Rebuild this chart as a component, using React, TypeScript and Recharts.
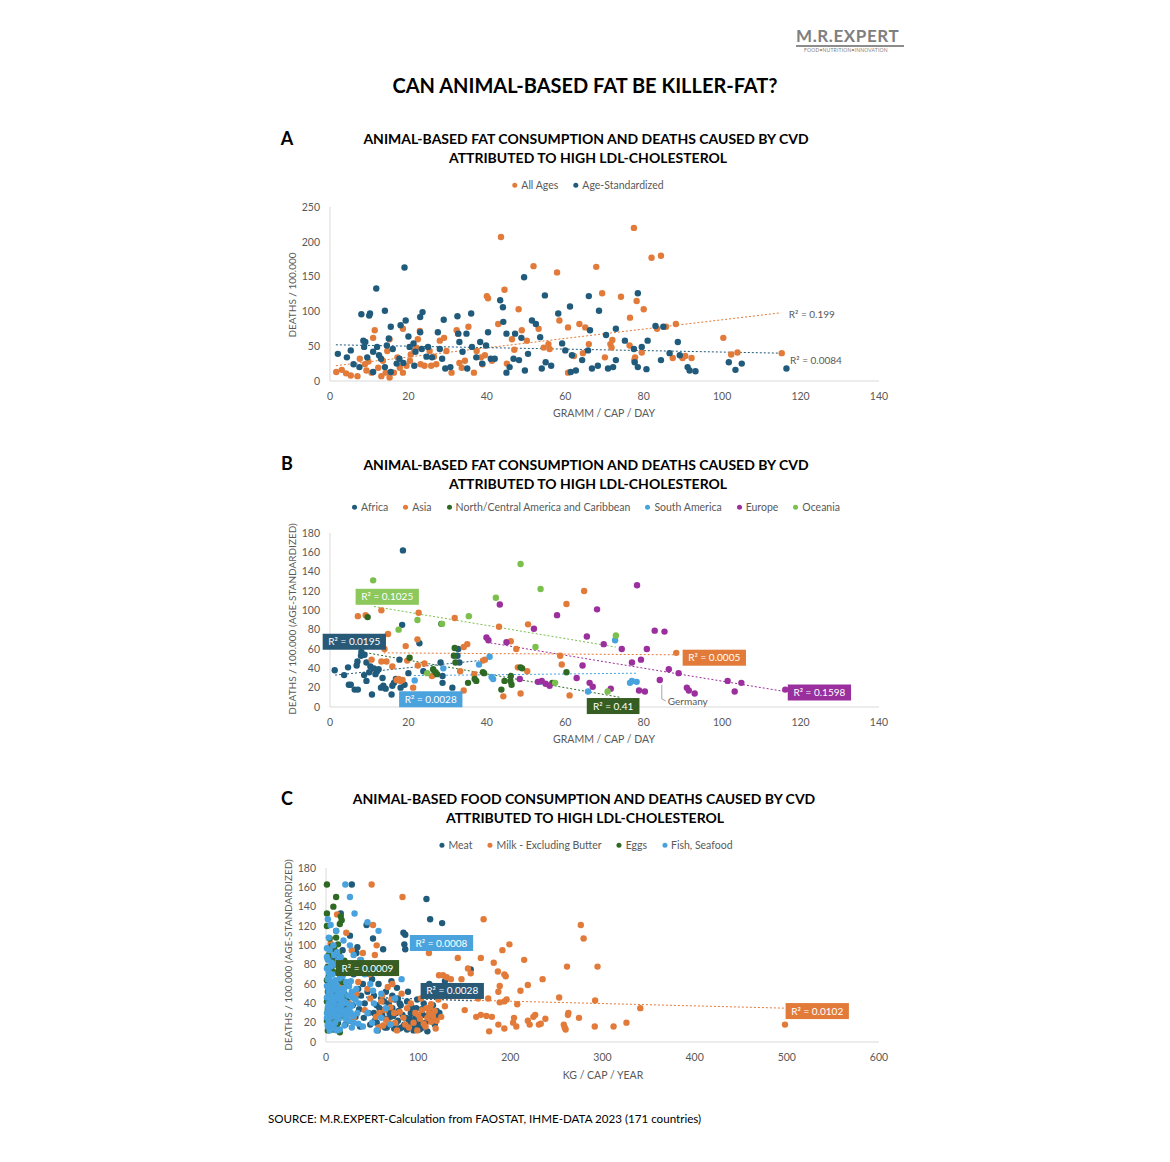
import React from 'react';
import { ScatterChart, Scatter, XAxis, YAxis, ReferenceLine, ReferenceDot } from 'recharts';

type P = [number, number];

// ---------------- DATA: Chart A ----------------
const allAges: P[] = [
  [1.6,13],[4.1,11],[5.3,8],[7.0,7],[7.6,32],[8.9,24],[9.3,15],[10.6,12],[11,62],[11.4,73],[12.3,19],[13.1,7],[13.5,29],
  [14.6,43],[15.2,5],[15.2,60],[16.3,12],[17.2,34],[17.8,19],[18.6,75],[18.6,12],[20.4,29],[20.6,38],[21.5,43],[22,48],
  [22.4,60],[22.9,72],[23.1,24],[24.1,22],[25.4,43],[25.8,22],[27.1,24],[28,58],[29.1,62],[29.7,43],[31,12],[32.3,73],
  [32.7,68],[33.6,19],[34.4,29],[35.3,78],[36.7,12],[37.4,43],[38.5,34],[38.9,24],[40,122],[40.3,119],[41.3,29],[42.9,82],
  [43.6,207],[44.5,131],[45.1,25],[46.4,60],[48.1,103],[48.9,73],[50.2,58],[51.9,165],[53.2,75],[54.5,48],[55.7,53],
  [57.9,156],[58.5,87],[60.7,12],[60.7,77],[62.2,36],[63.6,82],[65.1,77],[66,53],[67.9,164],[69.4,126],
  [74.2,121],[77.5,220],[82,177],[84.4,180],[78.2,115],[80,103],[76.5,91],[83.4,75],[85.7,78],[88.2,82],[72,59],[71.5,53],
  [71.8,48],[70.1,34],[76.4,51],[77.8,34],[77.6,30],[79.5,41],[87.4,33],[89.9,33],[90.6,36],[92.2,33],[100.3,62],
  [102.3,38],[103.9,41],[115.2,40],[3,16],[9.8,28],[14.2,12],[19.5,22],[26.5,35],[33,26],[39.5,37],[47,45],[56,46],[64.5,40]
];
const ageStd: P[] = [
  [2,39],[4.3,34],[5.3,44],[6,24],[7.5,20],[8,96],[8.5,58],[8.7,49],[9,56],[9.5,34],[10,94],[10.2,97],[11,42],[11,13],
  [11.8,133],[12,49],[12.5,37],[13,32],[14,101],[14.5,51],[14,20],[15,61],[15.5,78],[15.5,13],[16,46],[17,25],[17.7,32],
  [18,80],[18.7,26],[19,163],[19.3,87],[20,64],[20.3,49],[21.3,54],[21.5,22],[21.8,42],[23,92],[23.6,99],[23,70],[23.4,46],
  [24.6,35],[25,49],[26,34],[27.5,70],[28,46],[28.6,32],[29,88],[29.4,18],[30.7,20],[32.5,93],[32.7,68],[33,56],[33.8,42],
  [34.8,68],[35,18],[36,97],[36.2,49],[37.3,34],[38.3,56],[38.8,25],[39.8,51],[40.3,70],[41,32],[42,32],[43.4,116],
  [44.1,106],[44.2,85],[45,68],[45,12],[45.8,20],[46.8,32],[47.2,68],[48.2,30],[48.8,62],[49.5,149],[49.7,15],[50.5,39],
  [51.5,87],[52.5,82],[53.6,63],[54,18],[54.8,123],[55,27],[56.4,22],[58.2,97],[59.2,54],[60,44],[61.2,107],[61.4,13],
  [61.7,37],[62.7,15],[64.3,30],[65.8,44],[66,122],[66.3,73],[66.8,18],[68.3,22],[68.6,101],[70.4,66],[70.9,18],[72.2,20],
  [72.9,75],[72.9,30],[75.2,58],[77.5,46],[77.7,27],[78.5,126],[78.5,20],[79.5,49],[80.7,17],[81,58],[83,79],[85,78],
  [84.4,30],[86.6,40],[88.7,56],[89.2,37],[91.2,20],[91.7,15],[93.2,14],[101.7,27],[103.4,16],[105,25],[116.4,18]
];
const trendAllAges: P[] = [[1.5, 22], [115, 98]];
const trendAgeStd: P[] = [[1.5, 52], [115, 40]];
const xTicksA = [0, 20, 40, 60, 80, 100, 120, 140];
const yTicksA = [0, 50, 100, 150, 200, 250];

// ---------------- DATA: Chart B ----------------
const africa: P[] = [
  [1.2,38],[3.6,33],[4.6,41],[4.8,23],[5.3,23],[6.3,18],[6.8,43],[7,47],[7.9,53],[8,57],[8.7,33],[8.8,54],[9.3,27],[9.3,46],
  [10.3,42],[10.7,13],[11.2,40],[11.6,34],[12,37],[12.4,39],[13,20],[13.4,30],[13.6,22],[15.7,13],[15.9,22],[16.3,25],
  [17.3,28],[17.7,49],[18,20],[19,23],[18.4,85],[18.6,162],[22.8,66],[23.8,37],[28.2,46],[28.7,32],[28.7,25],[31.2,20],
  [32.5,53],[32.7,60],[33,46],[26.6,34],[7.1,18],[10,36],[14.2,19],[16.8,29],[20,35]
];
const asia: P[] = [
  [7.1,94],[9.1,95],[13.1,100],[14.8,75.5],[13.9,60],[10.6,49],[13.1,47],[14.4,47],[15.9,42],[19.3,63],[22.3,70],[22.6,97.5],
  [19.7,48],[22.4,43],[24.1,45],[17,28],[18,27],[18.5,28],[17.5,29],[21.2,20],[31.8,92],[34.1,62],[35,65],[33.2,37],[34.1,17],
  [36.8,34],[39,48],[39.5,49],[43.1,83],[46.1,68],[47.5,60],[47.9,41],[48.6,14],[44.2,11],[50.5,85.5],[60.3,106.5],[64.8,120],
  [58.7,53],[59.1,44],[61.1,12],[88.3,56],[50.3,37],[26,32]
];
const ncaCarib: P[] = [
  [9.6,93],[20.3,51],[28.4,86],[31.8,61],[31.6,53],[32,46],[26.3,39],[26.9,36],[27.3,34],[36.9,29],[37.3,27],[35.2,25],
  [39,36],[39.3,35],[43.7,18],[46.1,32],[46,27],[46.3,23],[48.6,41],[49,40],[60.3,36],[56.7,25],[44.5,27]
];
const southAm: P[] = [
  [21.6,27.5],[28.9,40],[38,44],[40.7,52],[41.6,29],[53.8,26],[65.8,16],[72.7,69],[77,27],[78.2,26],[41.2,31],[76.5,25]
];
const europe: P[] = [
  [39.9,72],[40.4,69],[43.3,106],[45,67],[48.4,29],[52,81],[54,27],[55,24],[56,22],[57.9,95],[62.9,30],[64.4,43],[65.5,73],
  [66.2,25],[67,21],[68.1,101],[69.8,65],[71.6,19],[74.4,60],[77,46],[78.3,126],[78.8,17],[79.3,49],[80.3,16],[80.8,60],
  [82.8,79],[84.1,28],[85.3,78],[86.4,39],[88.9,35],[91,20],[91.5,17],[93,14],[101.4,27],[103.2,16],[104.9,25],[116.1,18],[53,26]
];
const oceania: P[] = [
  [11,131],[22.3,90],[17.5,80],[28.6,86],[35.4,94],[42.3,113],[48.6,148],[53.7,122],[52.4,62],[24.8,35],[57.4,25],[70.8,16],[72.9,74]
];
const trendAfrica: P[] = [[1.3, 33], [38, 48]];
const trendAsia: P[] = [[13.7, 56], [88.3, 54]];
const trendNca: P[] = [[8, 57], [74, 10]];
const trendSouthAm: P[] = [[21.4, 32.5], [78.5, 35]];
const trendEurope: P[] = [[39.9, 67], [116, 16]];
const trendOceania: P[] = [[11.2, 104], [72.9, 62]];
const germany: P = [84.1, 28];
const xTicksB = [0, 20, 40, 60, 80, 100, 120, 140];
const yTicksB = [0, 20, 40, 60, 80, 100, 120, 140, 160, 180];

// ---------------- DATA: Chart C ----------------
const meat: P[] = [
  [2,45],[3,60],[4,38],[5,30],[6,72],[7,52],[8,25],[9,88],[10,40],[11,33],[12,55],[13,20],[14,64],[15,47],[16,133],[17,28],
  [18,95],[19,36],[20,50],[21,18],[22,80],[23,42],[24,60],[25,30],[26,110],[27,22],[28,163],[29,38],[30,70],[31,45],[32,26],
  [33,92],[34,98],[35,55],[36,34],[37,16],[38,48],[39,82],[40,60],[41,25],[42,40],[44,121],[45,52],[46,30],[48,18],[50,65],
  [51,107],[52,48],[53,22],[55,38],[56,12],[57,60],[58,28],[60,45],[62,96],[63,33],[64,15],[65,52],[66,24],[68,40],[69,30],
  [70,18],[71,63],[72,35],[73,27],[75,44],[76,20],[77,56],[78,45],[79,32],[80,14],[81,38],[82,15],[84,113],[85,101],[86,96],
  [86,111],[87,25],[88,13],[89,52],[90,20],[92,30],[94,16],[96,22],[98,35],[100,17],[101,13],[103,14],[105,28],[106,40],
  [108,20],[109,148],[110,11],[112,60],[113,127],[114,24],[115,30],[117,26],[118,18],[120,32],[122,28],[126,123],[129,63],[157,75],
  [52,30],[55,20],[58,35],[61,28],[63,42],[66,15],[67,33],[70,26],[72,48],[74,14],[76,30],[78,22],[80,40],[83,28],[85,18],
  [88,42],[91,24],[93,36],[95,12],[97,27],[99,44],[102,20],[104,34],[107,16],[111,28],[116,38],[119,22],[123,30]
];
const milk: P[] = [
  [49.5,163],[83,150],[171,127],[276.5,121],[279.5,107],[199,101],[191.4,95],[215,85],[182,82],[168,87],[143,87],[294.6,78],
  [261.5,78],[186.5,73],[193.5,70],[195,68],[122.6,69],[127,69],[135.5,65],[147,65],[157,71],[235,65],[219,59],[188.5,58],
  [211,53],[187,52],[165,45],[176,45],[196,44],[253,46],[292,43],[193.5,42],[188.5,41],[207.5,39],[129,37],[114,39],[150.5,33],
  [341,35],[263,30],[262.5,28],[274.5,25],[225,26],[227,28],[204,25],[163,26],[168,28],[174,27],[180,26],[219,22],[221,18],
  [231,18],[233,19],[238,24],[203,20],[206.5,16],[187,18],[193.5,14],[177,11],[258,18],[259,15],[260,13],[291.6,16],[312,16],
  [326,20],[498,18],[100,28],[102,24],[104,33],[106,19],[109,35],[110,25],[112,30],[114,21],[116,27],[118,32],[120,22],[95,20],
  [97,30],[90,15],[88,35],[84,25],[80,31],[75,20],[72,60],[70,36],[67,57],[65,23],[62,17],[60,42],[58,30],[55,100],[53,90],
  [51,121],[48,45],[47,70],[45,55],[42,33],[40,92],[37,85],[35,62],[33,50],[30,25],[28,95],[25,40],[22,113],[20,30],[18,70],
  [15,58],[12,132],[10,45],[8,80],[6,35],[5,102],[3,28],[164,56],[111.7,92],[131,67],[154,76],
  [54,26],[57,15],[61,48],[64,33],[68,20],[71,44],[74,30],[77,12],[82,50],[86,18],[92,40],[99,12],[103,45],[108,16],[113,36],
  [119,14],[122,44],[125,26]
];
const eggs: P[] = [
  [1,163],[11,150],[1,133],[16,130],[17,126],[15,122],[11,115],[11,108],[13,101],[9,96],[14,92],[3,90],[2,86],[7,83],[12,80],
  [2,78],[6,75],[10,72],[3,68],[1,64],[8,60],[4,57],[13,55],[2,52],[6,48],[9,45],[1,42],[4,40],[11,37],[2,34],[7,31],[14,29],
  [3,26],[9,24],[1,22],[5,20],[12,18],[3,15],[8,13],[2,12],[15,10],[18,62],[20,84],[22,47],[25,35],[19,27],[6,99],[4,107],
  [1,120],[8,140]
];
const fish: P[] = [
  [21,163],[26,150],[31,133],[5,121],[2,127],[45,124],[57,115],[3,108],[8,100],[1,97],[4,95],[12,93],[16,88],[2,85],[6,82],
  [10,80],[1,76],[14,74],[3,72],[7,70],[18,68],[2,65],[5,62],[11,60],[1,58],[20,56],[8,54],[3,52],[13,50],[24,48],[1,46],
  [6,44],[16,42],[9,40],[28,38],[2,36],[12,34],[22,33],[4,31],[18,29],[7,28],[30,27],[1,25],[14,24],[25,22],[3,21],[10,20],
  [35,19],[6,18],[20,17],[2,16],[28,15],[9,14],[15,13],[4,12],[40,16],[45,30],[50,20],[55,12],[52,40],[48,60],[60,25],
  [65,35],[70,18],[75,45],[82,65],[38,85],[42,70],[33,55],[36,40],[51,53],[60,50],[26,100],[30,90],[19,105],[23,78],[11,115],
  [9,33],[17,47],[27,63],
  [1,30],[3,40],[5,50],[7,36],[9,58],[11,45],[13,28],[15,66],[17,38],[19,52],[21,24],[23,40],[25,58],[27,30],[29,46],[2,18],
  [4,68],[6,26],[8,47],[10,64],[12,12],[14,55],[16,34],[18,80],[20,42],[22,62],[24,28],[26,36],[28,52],[30,20],[32,44],[34,30],
  [1,88],[5,78],[9,90],[13,84],[3,56],[7,42],[11,26],[15,38]
];
const trendMeat: P[] = [[0, 48], [160, 42.5]];
const trendMilk: P[] = [[0, 47], [498, 35]];
const trendEggs: P[] = [[0, 48], [30, 47]];
const trendFish: P[] = [[0, 46.5], [90, 45]];
const xTicksC = [0, 100, 200, 300, 400, 500, 600];
const yTicksC = [0, 20, 40, 60, 80, 100, 120, 140, 160, 180];

// R² annotations (text + anchor in data units)
const r2A = [
  { t: 'R² = 0.199', x: 117, y: 96 },
  { t: 'R² = 0.0084', x: 117.3, y: 29 },
];
const r2B = [
  { t: 'R² = 0.1025', x: 14.6, y: 114, c: 'oce' },
  { t: 'R² = 0.0195', x: 6.2, y: 67.5, c: 'afr' },
  { t: 'R² = 0.0028', x: 25.7, y: 8, c: 'sam' },
  { t: 'R² = 0.41', x: 72.2, y: 1, c: 'nca' },
  { t: 'R² = 0.0005', x: 98, y: 51, c: 'asi' },
  { t: 'R² = 0.1598', x: 124.8, y: 15, c: 'eur' },
];
const r2C = [
  { t: 'R² = 0.0008', x: 125.3, y: 102.4, c: 'fish' },
  { t: 'R² = 0.0009', x: 45, y: 76.5, c: 'eggs' },
  { t: 'R² = 0.0028', x: 137, y: 52.8, c: 'meat' },
  { t: 'R² = 0.0102', x: 533, y: 32, c: 'milk' },
];

// ---------------- STYLE ----------------
const FONT = "Lato, 'Open Sans', sans-serif";
const TXT = '#595959';
const AX = '#D9D9D9';
const C_ORANGE = '#E27B3A';
const C_DBLUE = '#215B7C';
const C_DGREEN = '#2F6A25';
const C_LBLUE = '#48A2DD';
const C_PURPLE = '#9B2F9D';
const C_LGREEN = '#7BBF4C';
const BOX: Record<string, string> = {
  oce: '#8DC85C', afr: '#285A78', sam: '#4BA3DE', nca: '#375E22', asi: '#E27B3A', eur: '#9A2F9E',
  fish: '#4BA3DE', eggs: '#385D22', meat: '#285A78', milk: '#E27B3A',
};

const toPts = (a: P[]) => a.map(([x, y]) => ({ x, y }));
const seg = (a: P[]) => a.map(([x, y]) => ({ x, y })) as any;

const dotShape = (color: string, r = 3.2) => (p: any) => (
  <circle cx={p.cx} cy={p.cy} r={r} fill={color} stroke="none" />
);

const boxShape = (text: string, fill: string) => (p: any) => {
  const w = text.length * 5.3 + 5;
  const h = 16;
  return (
    <g>
      <rect x={p.cx - w / 2} y={p.cy - h / 2} width={w} height={h} fill={fill} />
      <text x={p.cx} y={p.cy + 3.5} textAnchor="middle" fontSize={10} fill="#fff" fontFamily={FONT}>{text}</text>
    </g>
  );
};

const plainLabel = (text: string) => (p: any) => (
  <text x={p.cx} y={p.cy + 3.5} textAnchor="start" fontSize={10} fill={TXT} fontFamily={FONT}>{text}</text>
);

const germanyShape = (p: any) => (
  <g>
    <polyline points={`${p.cx + 2},${p.cy + 5} ${p.cx + 2},${p.cy + 19} ${p.cx + 6},${p.cy + 21}`} fill="none" stroke="#A6A6A6" strokeWidth={1} />
    <text x={p.cx + 8} y={p.cy + 25} fontSize={10} fill={TXT} fontFamily={FONT}>Germany</text>
  </g>
);

const axisCommon = {
  axisLine: { stroke: AX, strokeWidth: 1 },
  tickLine: false,
  tick: { fill: TXT, fontSize: 10.5, fontFamily: FONT },
  interval: 0 as const,
};

function Txt({ x, y, children, size = 10.5, bold = false, color = TXT, rotate = false, anchor = 'center' }: any) {
  const tx = anchor === 'left' ? '0' : '-50%';
  return (
    <div
      style={{
        position: 'absolute', left: x, top: y, whiteSpace: 'nowrap', fontSize: size, fontWeight: bold ? 700 : 400,
        color, lineHeight: 1, fontFamily: FONT,
        transform: `translate(${tx}, -50%)${rotate ? ' rotate(-90deg)' : ''}`,
        transformOrigin: rotate ? '50% 50%' : undefined,
      }}
    >
      {children}
    </div>
  );
}

function Legend({ cx, y, items }: { cx: number; y: number; items: { label: string; color: string }[] }) {
  return (
    <div style={{ position: 'absolute', left: cx, top: y, transform: 'translate(-50%, -50%)', display: 'flex', gap: 15, whiteSpace: 'nowrap', fontFamily: FONT, fontSize: 10.5, color: TXT, lineHeight: 1 }}>
      {items.map((it) => (
        <div key={it.label} style={{ display: 'flex', alignItems: 'center', gap: 4 }}>
          <span style={{ width: 5, height: 5, borderRadius: 3, background: it.color, display: 'inline-block' }} />
          <span>{it.label}</span>
        </div>
      ))}
    </div>
  );
}

const CH_W = 620;
const CH_H = 220;
const MARGIN = { top: 12, right: 11, bottom: 0, left: 0 };

function ChartA() {
  return (
    <div style={{ position: 'absolute', left: 270, top: 195 }}>
      <ScatterChart width={CH_W} height={CH_H} margin={MARGIN}>
        <XAxis type="number" dataKey="x" domain={[0, 140]} ticks={xTicksA} height={34} tickMargin={6} {...axisCommon} />
        <YAxis type="number" dataKey="y" domain={[0, 250]} ticks={yTicksA} width={60} tickMargin={4} {...axisCommon} />
        <Scatter name="All Ages" data={toPts(allAges)} shape={dotShape(C_ORANGE)} isAnimationActive={false} />
        <Scatter name="Age-Standardized" data={toPts(ageStd)} shape={dotShape(C_DBLUE)} isAnimationActive={false} />
        <ReferenceLine segment={seg(trendAllAges)} stroke={C_ORANGE} strokeDasharray="2 2" ifOverflow="visible" />
        <ReferenceLine segment={seg(trendAgeStd)} stroke={C_DBLUE} strokeDasharray="2 2" ifOverflow="visible" />
        {r2A.map((r) => (
          <ReferenceDot key={r.t} x={r.x} y={r.y} r={0} ifOverflow="visible" shape={plainLabel(r.t)} />
        ))}
      </ScatterChart>
    </div>
  );
}

function ChartB() {
  return (
    <div style={{ position: 'absolute', left: 270, top: 521 }}>
      <ScatterChart width={CH_W} height={CH_H} margin={MARGIN}>
        <XAxis type="number" dataKey="x" domain={[0, 140]} ticks={xTicksB} height={34} tickMargin={6} {...axisCommon} />
        <YAxis type="number" dataKey="y" domain={[0, 180]} ticks={yTicksB} width={60} tickMargin={4} {...axisCommon} />
        <Scatter name="Africa" data={toPts(africa)} shape={dotShape(C_DBLUE)} isAnimationActive={false} />
        <Scatter name="Asia" data={toPts(asia)} shape={dotShape(C_ORANGE)} isAnimationActive={false} />
        <Scatter name="North/Central America and Caribbean" data={toPts(ncaCarib)} shape={dotShape(C_DGREEN)} isAnimationActive={false} />
        <Scatter name="South America" data={toPts(southAm)} shape={dotShape(C_LBLUE)} isAnimationActive={false} />
        <Scatter name="Europe" data={toPts(europe)} shape={dotShape(C_PURPLE)} isAnimationActive={false} />
        <Scatter name="Oceania" data={toPts(oceania)} shape={dotShape(C_LGREEN)} isAnimationActive={false} />
        <ReferenceLine segment={seg(trendAfrica)} stroke={C_DBLUE} strokeDasharray="2 2" ifOverflow="visible" />
        <ReferenceLine segment={seg(trendAsia)} stroke={C_ORANGE} strokeDasharray="2 2" ifOverflow="visible" />
        <ReferenceLine segment={seg(trendNca)} stroke={C_DGREEN} strokeDasharray="2 2" ifOverflow="visible" />
        <ReferenceLine segment={seg(trendSouthAm)} stroke={C_LBLUE} strokeDasharray="2 2" ifOverflow="visible" />
        <ReferenceLine segment={seg(trendEurope)} stroke={C_PURPLE} strokeDasharray="2 2" ifOverflow="visible" />
        <ReferenceLine segment={seg(trendOceania)} stroke={C_LGREEN} strokeDasharray="2 2" ifOverflow="visible" />
        <ReferenceDot x={germany[0]} y={germany[1]} r={0} ifOverflow="visible" shape={germanyShape} />
        {r2B.map((r) => (
          <ReferenceDot key={r.t} x={r.x} y={r.y} r={0} ifOverflow="visible" shape={boxShape(r.t, BOX[r.c])} />
        ))}
      </ScatterChart>
    </div>
  );
}

function ChartC() {
  return (
    <div style={{ position: 'absolute', left: 270, top: 856 }}>
      <ScatterChart width={CH_W} height={CH_H} margin={MARGIN}>
        <XAxis type="number" dataKey="x" domain={[0, 600]} ticks={xTicksC} height={34} tickMargin={6} {...axisCommon} />
        <YAxis type="number" dataKey="y" domain={[0, 180]} ticks={yTicksC} width={56} tickMargin={4} {...axisCommon} />
        <Scatter name="Meat" data={toPts(meat)} shape={dotShape(C_DBLUE)} isAnimationActive={false} />
        <Scatter name="Milk - Excluding Butter" data={toPts(milk)} shape={dotShape(C_ORANGE)} isAnimationActive={false} />
        <Scatter name="Eggs" data={toPts(eggs)} shape={dotShape(C_DGREEN)} isAnimationActive={false} />
        <Scatter name="Fish, Seafood" data={toPts(fish)} shape={dotShape(C_LBLUE)} isAnimationActive={false} />
        <ReferenceLine segment={seg(trendMilk)} stroke={C_ORANGE} strokeDasharray="2 2" ifOverflow="visible" />
        <ReferenceLine segment={seg(trendMeat)} stroke={C_DBLUE} strokeDasharray="2 2" ifOverflow="visible" />
        <ReferenceLine segment={seg(trendEggs)} stroke={C_DGREEN} strokeDasharray="2 2" ifOverflow="visible" />
        <ReferenceLine segment={seg(trendFish)} stroke={C_LBLUE} strokeDasharray="2 2" ifOverflow="visible" />
        {r2C.map((r) => (
          <ReferenceDot key={r.t + r.c} x={r.x} y={r.y} r={0} ifOverflow="visible" shape={boxShape(r.t, BOX[r.c])} />
        ))}
      </ScatterChart>
    </div>
  );
}

export default function App() {
  return (
    <div style={{ position: 'absolute', left: 0, top: 0, width: 1170, height: 1162, background: '#fff', fontFamily: FONT, overflow: 'hidden' }}>
      {/* Logo */}
      <div style={{ position: 'absolute', left: 796, top: 27, fontFamily: FONT, fontSize: 17, fontWeight: 700, color: '#7F7F7F', letterSpacing: 0.6, lineHeight: 1 }}>M.R.EXPERT</div>
      <div style={{ position: 'absolute', left: 796, top: 45, width: 108, height: 1.5, background: '#8C8C8C' }} />
      <div style={{ position: 'absolute', left: 804, top: 48, fontFamily: FONT, fontSize: 5, color: '#7F7F7F', letterSpacing: 0.2, lineHeight: 1 }}>FOOD•NUTRITION•INNOVATION</div>

      <Txt x={585} y={85} size={20} bold color="#000">CAN ANIMAL-BASED FAT BE KILLER-FAT?</Txt>

      {/* A */}
      <Txt x={287} y={138} size={18} bold color="#000">A</Txt>
      <Txt x={586} y={139} size={14} bold color="#000">ANIMAL-BASED FAT CONSUMPTION AND DEATHS CAUSED BY CVD</Txt>
      <Txt x={588} y={158} size={14} bold color="#000">ATTRIBUTED TO HIGH LDL-CHOLESTEROL</Txt>
      <Legend cx={588} y={185} items={[{ label: 'All Ages', color: C_ORANGE }, { label: 'Age-Standardized', color: C_DBLUE }]} />
      <Txt x={292} y={295} size={10} rotate>DEATHS / 100.000</Txt>
      <Txt x={604} y={413}>GRAMM / CAP / DAY</Txt>
      <ChartA />

      {/* B */}
      <Txt x={287} y={463} size={18} bold color="#000">B</Txt>
      <Txt x={586} y={465} size={14} bold color="#000">ANIMAL-BASED FAT CONSUMPTION AND DEATHS CAUSED BY CVD</Txt>
      <Txt x={588} y={484} size={14} bold color="#000">ATTRIBUTED TO HIGH LDL-CHOLESTEROL</Txt>
      <Legend cx={596} y={507} items={[
        { label: 'Africa', color: C_DBLUE }, { label: 'Asia', color: C_ORANGE },
        { label: 'North/Central America and Caribbean', color: C_DGREEN }, { label: 'South America', color: C_LBLUE },
        { label: 'Europe', color: C_PURPLE }, { label: 'Oceania', color: C_LGREEN },
      ]} />
      <Txt x={292} y={619} size={10} rotate>DEATHS / 100.000 (AGE-STANDARDIZED)</Txt>
      <Txt x={604} y={739}>GRAMM / CAP / DAY</Txt>
      <ChartB />

      {/* C */}
      <Txt x={287} y={798} size={18} bold color="#000">C</Txt>
      <Txt x={584} y={799} size={14} bold color="#000">ANIMAL-BASED FOOD CONSUMPTION AND DEATHS CAUSED BY CVD</Txt>
      <Txt x={585} y={818} size={14} bold color="#000">ATTRIBUTED TO HIGH LDL-CHOLESTEROL</Txt>
      <Legend cx={586} y={845} items={[
        { label: 'Meat', color: C_DBLUE }, { label: 'Milk - Excluding Butter', color: C_ORANGE },
        { label: 'Eggs', color: C_DGREEN }, { label: 'Fish, Seafood', color: C_LBLUE },
      ]} />
      <Txt x={288} y={955} size={10} rotate>DEATHS / 100.000 (AGE-STANDARDIZED)</Txt>
      <Txt x={603} y={1075}>KG / CAP / YEAR</Txt>
      <ChartC />

      <Txt x={268} y={1119} size={11.6} color="#000" anchor="left">SOURCE: M.R.EXPERT-Calculation from FAOSTAT, IHME-DATA 2023 (171 countries)</Txt>
    </div>
  );
}
